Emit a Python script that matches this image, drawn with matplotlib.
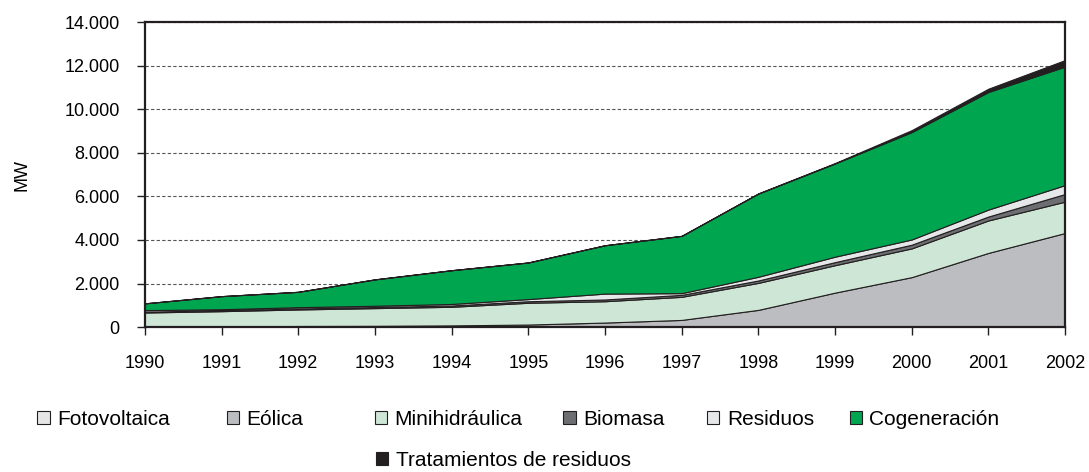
import matplotlib.pyplot as plt
from matplotlib.patches import Patch
from matplotlib.ticker import FuncFormatter

plt.rcParams['font.family'] = ['Liberation Sans', 'DejaVu Sans']

years = list(range(1990, 2003))
series_names = ['Fotovoltaica', 'Eólica', 'Minihidráulica', 'Biomasa',
                'Residuos', 'Cogeneración', 'Tratamientos de residuos']

fotovoltaica = [3, 4, 5, 6, 7, 7, 8, 9, 10, 12, 13, 16, 20]
eolica = [7, 7, 45, 50, 70, 110, 200, 320, 780, 1570, 2280, 3390, 4300]
minihidraulica = [660, 720, 760, 815, 855, 1000, 980, 1060, 1240, 1260, 1320, 1490, 1440]
biomasa = [40, 40, 45, 50, 60, 70, 80, 90, 110, 140, 170, 180, 350]
residuos = [70, 50, 60, 60, 70, 100, 270, 80, 170, 250, 240, 320, 410]
cogeneracion = [310, 600, 705, 1210, 1550, 1680, 2220, 2630, 3820, 4280, 4930, 5400, 5440]
tratamientos = [0, 0, 0, 0, 0, 0, 0, 0, 10, 20, 90, 150, 300]

colors = ['#e6e6e6', '#bcbdc1', '#cde6d5', '#6d6e71', '#e6e7e8', '#00a54f', '#231f20']

# legend entry placement (figure fraction of the left edge, row height)
legend_x = [0.017, 0.191, 0.327, 0.500, 0.632, 0.763, 0.328]
legend_y = [0.112] * 6 + [0.024]

fig = plt.figure(figsize=(10.89, 4.72), dpi=100)
ax = fig.add_axes([0.133, 0.307, 0.845, 0.646])

ax.stackplot(years, fotovoltaica, eolica, minihidraulica, biomasa, residuos,
             cogeneracion, tratamientos, colors=colors,
             edgecolor='#231f20', linewidth=0.8, zorder=2)

ax.set_xlim(1990, 2002)
ax.set_ylim(0, 14000)
ax.set_xticks(years)
ax.set_yticks(range(0, 14001, 2000))
ax.yaxis.set_major_formatter(FuncFormatter(lambda v, p: f'{int(v):,}'.replace(',', '.')))
ax.grid(axis='y', linestyle=(0, (3, 2)), color='#555555', linewidth=0.8, zorder=1)
ax.set_axisbelow(True)
ax.tick_params(axis='both', labelsize=13, length=6, width=1, color='#231f20')
ax.tick_params(axis='y', pad=12)
ax.tick_params(axis='x', pad=14)
for s in ax.spines.values():
    s.set_color('#231f20')
    s.set_linewidth(1.6)
ax.set_ylabel('MW', fontsize=13)
ax.yaxis.set_label_coords(-0.124, 0.5)

# one legend per entry so the entries sit where the original puts them
for name, c, lx, ly in zip(series_names, colors, legend_x, legend_y):
    h = Patch(facecolor=c, edgecolor='#231f20', linewidth=0.8)
    fig.legend([h], [name], loc='center left', bbox_to_anchor=(lx, ly),
               frameon=False, fontsize=15, handlelength=0.6, handleheight=0.6,
               handletextpad=0.35)

fig.savefig('out.png', dpi=100)
